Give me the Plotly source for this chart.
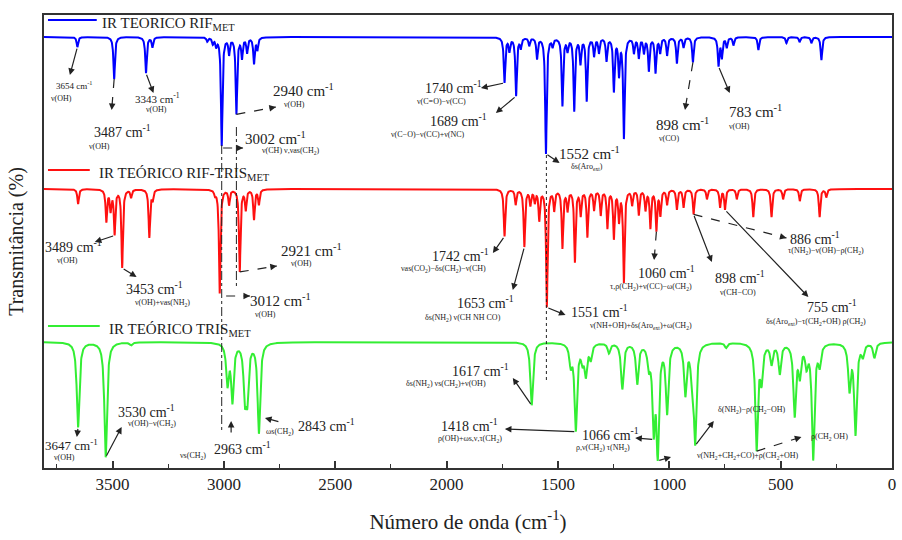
import numpy as np
import plotly.graph_objects as go

# ---------------- data ----------------
# peak positions (cm-1) and band depths (transmittance units) of each spectrum
BLUE_POS = [3658, 3493, 3350, 3321, 3075, 3050, 3035, 3010, 2977, 2944, 2919, 2896, 2865, 2850,
            1740, 1718, 1688, 1667, 1629, 1594, 1554, 1524, 1480, 1457, 1427, 1399, 1371, 1338,
            1316, 1282, 1249, 1226, 1204, 1159, 1137, 1114, 1092, 1062, 1041, 1010, 966, 936,
            894, 779, 764, 742, 712, 600, 474, 415, 362, 317]
BLUE_DEPTH = [10, 42, 36, 10, 4, 6, 8, 108, 16, 76, 20, 15, 26, 12,
              45, 13, 58, 10, 8, 21, 116, 8, 68, 12, 73, 25, 63, 18,
              15, 23, 53, 36, 100, 15, 20, 15, 33, 35, 15, 18, 26, 10,
              25, 28, 20, 10, 8, 13, 6, 5, 6, 23]

RED_POS = [3655, 3528, 3509, 3491, 3457, 3417, 3335, 3320, 3040, 3019, 2977, 2929, 2902, 2865, 2843,
           1740, 1690, 1651, 1624, 1604, 1584, 1550, 1517, 1480, 1457, 1424, 1398, 1368, 1338,
           1308, 1278, 1249, 1226, 1204, 1167, 1137, 1107, 1085, 1058, 1040, 1010, 966, 936,
           891, 831, 772, 750, 697, 623, 541, 489, 414, 325, 295]
RED_DEPTH = [15, 32, 20, 44, 78, 8, 48, 10, 5, 104, 15, 82, 20, 30, 15,
             47, 15, 57, 15, 12, 30, 117, 20, 58, 20, 72, 25, 47, 20,
             25, 38, 48, 30, 92, 15, 25, 20, 38, 40, 25, 15, 20, 18,
             25, 10, 18, 20, 10, 28, 28, 10, 12, 28, 8]

GREEN_POS = [3655, 3531, 3417, 2984, 2962, 2906, 2895, 2843,
             1618, 1443, 1420, 1390, 1375, 1353, 1271, 1211, 1144, 1092, 1070, 1052, 1010,
             928, 898, 884, 745, 608, 586, 541, 504, 437, 414, 384, 354, 325, 191, 164, 131, 79]
GREEN_DEPTH = [85, 115, 3, 40, 57, 50, 50, 90,
               63, 20, 86, 15, 30, 15, 10, 46, 40, 20, 80, 105, 68,
               50, 28, 96, 5, 105, 35, 20, 30, 71, 30, 20, 115, 20, 45, 90, 12, 15]

# vertical offsets of the stacked spectra
OFFSETS = {"blue": 431, "red": 279, "green": 126}
X_TICKS = [3500, 3000, 2500, 2000, 1500, 1000, 500, 0]
X_MAX = 3808

# ---------------- helpers ----------------
X = np.linspace(X_MAX, 0, 3809)
HW = {"blue": 4.0, "red": 4.0, "green": 7.0}
SERIES = {"blue": (BLUE_POS, BLUE_DEPTH), "red": (RED_POS, RED_DEPTH), "green": (GREEN_POS, GREEN_DEPTH)}


def spectrum(name, x):
    pos, dep = SERIES[name]
    g = HW[name]
    x = np.asarray(x, dtype=float)
    y = np.full_like(x, OFFSETS[name], dtype=float)
    for p, d in zip(pos, dep):
        y = y - d * g * g / ((x - p) ** 2 + g * g)
    return y


def tip(name, wn):
    return wn, float(spectrum(name, [wn])[0])


# pixel -> data helpers for placing text
PX0, PX1 = 44, 896
SCALE = (PX1 - PX0) / X_MAX   # pixels per cm-1


def wx(px):
    return X_MAX - (px - PX0) / SCALE


def vy(py):
    return 468 - py


COL = {"blue": "#0000FF", "red": "#FF1010", "green": "#33EE33"}
FONT = "Liberation Serif, Times New Roman, DejaVu Serif, serif"
INK = "#222222"

fig = go.Figure()
for name in ["blue", "red", "green"]:
    fig.add_trace(go.Scatter(x=X, y=spectrum(name, X), mode="lines",
                             line=dict(color=COL[name], width=2), hoverinfo="skip", showlegend=False))

annotations = []
shapes = []


def label(px, py, text, size, anchor="center"):
    annotations.append(dict(x=wx(px), y=vy(py), xref="x", yref="y", text=text, showarrow=False,
                            xanchor=anchor, yanchor="middle",
                            font=dict(family=FONT, size=size, color=INK)))


def arrow(head, tail, dashed=False):
    hx, hy = head
    tx, ty = tail
    if dashed:
        # dashed shaft + short solid piece carrying the head
        shapes.append(dict(type="line", xref="x", yref="y", x0=tx, y0=ty, x1=hx, y1=hy,
                           line=dict(color=INK, width=1.2, dash="dash")))
        # direction head -> tail in screen pixels (x reversed axis)
        ux = -(tx - hx) * SCALE
        uy = (ty - hy)
        L = max((ux ** 2 + uy ** 2) ** 0.5, 1e-6)
        ux, uy = ux / L, uy / L
        tx = hx - (8 * ux) / SCALE
        ty = hy + 8 * uy
    annotations.append(dict(x=hx, y=hy, ax=tx, ay=ty, xref="x", yref="y", axref="x", ayref="y",
                            text="", showarrow=True, arrowhead=2, arrowsize=1.1, arrowwidth=1.2,
                            arrowcolor=INK))


def P(px, py):
    return wx(px), vy(py)


SUP = " cm<sup>-1</sup>"

# ---- blue annotations ----
label(75, 85, "3654" + SUP, 9); label(62, 98, "ν(OH)", 8)
arrow(P(70, 75), tip("blue", 3658))
label(123, 131, "3487" + SUP, 14); label(100, 146, "ν(OH)", 8)
arrow(P(112, 110), tip("blue", 3493), dashed=True)
label(158, 98, "3343" + SUP, 11); label(157, 109, "ν(OH)", 8)
arrow(P(154, 93), tip("blue", 3350))
label(305, 90, "2940" + SUP, 15); label(296, 104, "ν(OH)", 8)
arrow(P(277, 107), tip("blue", 2944), dashed=True)
label(277, 138, "3002" + SUP, 15); label(292, 151, "ν(CH) ν,νas(CH<sub>2</sub>)", 8)
arrow(P(244, 148), P(224, 148), dashed=True)
label(455, 87, "1740" + SUP, 14); label(443, 101, "ν(C=O)−ν(CC)", 8)
arrow(P(483, 88), tip("blue", 1740))
label(460, 120, "1689" + SUP, 14); label(430, 134, "ν(C−O)−ν(CC)+ν(NC)", 8)
arrow(P(498, 113), tip("blue", 1688))
label(592, 153, "1552" + SUP, 15); label(590, 167, "δs(Aro<sub>ext</sub>)", 8)
arrow(P(562, 163), tip("blue", 1554))
label(686, 124, "898" + SUP, 15); label(672, 138, "ν(CO)", 8)
arrow(P(688, 110), tip("blue", 894), dashed=True)
label(759, 111, "783" + SUP, 15); label(743, 126, "ν(OH)", 8)
arrow(P(733, 93), tip("blue", 779))

# ---- red annotations ----
label(74, 246, "3489" + SUP, 14); label(68, 260, "ν(OH)", 8)
arrow(P(95, 242), tip("red", 3491))
label(155, 288, "3453" + SUP, 14); label(163, 303, "ν(OH)+νas(NH<sub>2</sub>)", 8)
arrow(P(137, 277), tip("red", 3457))
label(313, 250, "2921" + SUP, 15); label(303, 263, "ν(OH)", 8)
arrow(P(278, 266), tip("red", 2929), dashed=True)
label(282, 300, "3012" + SUP, 15); label(267, 314, "ν(OH)", 8)
arrow(P(251, 296), P(227, 296), dashed=True)
label(462, 255, "1742" + SUP, 14); label(445, 269, "νas(CO<sub>2</sub>)−δs(CH<sub>2</sub>)−ν(CH)", 8)
arrow(P(495, 253), tip("red", 1740))
label(488, 302, "1653" + SUP, 14); label(465, 318, "δs(NH<sub>2</sub>) ν(CH NH CO)", 8)
arrow(P(515, 290), tip("red", 1651))
label(602, 311, "1551" + SUP, 14); label(644, 326, "ν(NH+OH)+δs(Aro<sub>ext</sub>)+ω(CH<sub>2</sub>)", 8)
arrow(P(568, 315), tip("red", 1550))
label(669, 272, "1060" + SUP, 14); label(654, 287, "τ,ρ(CH<sub>2</sub>)+ν(CC)−ω(CH<sub>2</sub>)", 8)
arrow(P(657, 260), tip("red", 1058), dashed=True)
label(743, 277, "898" + SUP, 14); label(741, 292, "ν(CH−CO)", 8)
arrow(P(715, 262), tip("red", 891))
label(819, 238, "886" + SUP, 14); label(830, 251, "τ(NH<sub>2</sub>)−ν(OH)−ρ(CH<sub>2</sub>)", 8)
arrow(P(790, 238), tip("red", 891), dashed=True)
label(836, 306, "755" + SUP, 14); label(820, 322, "δs(Aro<sub>ext</sub>)−τ(CH<sub>2</sub>+OH) ρ(CH<sub>2</sub>)", 8)
arrow(P(812, 297), tip("red", 750))

# ---- green annotations ----
label(72, 445, "3647" + SUP, 13); label(65, 457, "ν(OH)", 8)
arrow(P(77, 437), tip("green", 3655))
label(147, 411, "3530" + SUP, 14); label(153, 424, "ν(OH)−ν(CH<sub>2</sub>)", 8)
arrow(P(122, 427), tip("green", 3531))
label(243, 448, "2963" + SUP, 14); label(194, 456, "νs(CH<sub>2</sub>)", 8)
arrow(P(232, 421), P(232, 434))
label(328, 425, "2843" + SUP, 14); label(281, 432, "ωs(CH<sub>2</sub>)", 8)
arrow(P(266, 418), P(281, 422))
label(483, 370, "1617" + SUP, 14); label(448, 384, "δs(NH<sub>2</sub>) νs(CH<sub>2</sub>)+ν(OH)", 8)
arrow(P(515, 378), tip("green", 1618))
label(472, 425, "1418" + SUP, 14); label(472, 439, "ρ(OH)+ωs,ν,τ(CH<sub>2</sub>)", 8)
arrow(P(507, 429), tip("green", 1420))
label(613, 434, "1066" + SUP, 14); label(606, 448, "ρ,ν(CH<sub>2</sub>) τ(NH<sub>2</sub>)", 8)
arrow(P(638, 438), tip("green", 1070))
label(751, 456, "ν(NH<sub>2</sub>+CH<sub>2</sub>+CO)+ρ(CH<sub>2</sub>+OH)", 8)
arrow(P(674, 457), tip("green", 1052))
label(755, 410, "δ(NH<sub>2</sub>)−ρ(CH<sub>2</sub>−OH)", 8)
arrow(P(717, 421), tip("green", 884))
label(833, 437, "ρ(CH<sub>2</sub> OH)", 8)
arrow(P(805, 437), tip("green", 608), dashed=True)

# ---- series labels (legend-like) ----
for name, py, x1, tx, txt in [("blue", 20, 97, 100, "IR TEORICO RIF<sub>MET</sub>"),
                              ("red", 170, 90, 97, "IR TEÓRICO RIF-TRIS<sub>MET</sub>"),
                              ("green", 326, 100, 107, "IR TEÓRICO TRIS<sub>MET</sub>")]:
    shapes.append(dict(type="line", xref="x", yref="y", x0=wx(48), x1=wx(x1), y0=vy(py), y1=vy(py),
                       line=dict(color=COL[name], width=2)))
    annotations.append(dict(x=wx(tx), y=vy(py + 4), xref="x", yref="y", text=txt, showarrow=False,
                            xanchor="left", yanchor="middle", font=dict(family=FONT, size=15, color=INK)))

# ---- vertical guide lines ----
shapes.append(dict(type="line", xref="x", yref="y", x0=3010, x1=3010, y0=vy(145), y1=vy(432),
                   line=dict(color=INK, width=1, dash="dashdot")))
shapes.append(dict(type="line", xref="x", yref="y", x0=2944, x1=2944, y0=vy(127), y1=vy(287),
                   line=dict(color=INK, width=1, dash="dashdot")))
shapes.append(dict(type="line", xref="x", yref="y", x0=1552, x1=1552, y0=vy(155), y1=vy(382),
                   line=dict(color=INK, width=1, dash="dot")))

fig.update_layout(
    width=902, height=540,
    margin=dict(l=44, r=6, t=15, b=72),
    paper_bgcolor="white", plot_bgcolor="white",
    annotations=annotations, shapes=shapes,
    xaxis=dict(range=[X_MAX, 0], tickvals=X_TICKS, ticktext=[str(v) for v in X_TICKS],
               ticks="inside", ticklen=7, tickwidth=1.5, tickcolor="#333",
               minor=dict(tickvals=[3750, 3250, 2750, 2250, 1750, 1250, 750, 250],
                          ticks="inside", ticklen=4, tickwidth=1.2, tickcolor="#333"),
               showline=True, linewidth=1.8, linecolor="#333", mirror=True,
               showgrid=False, zeroline=False,
               tickfont=dict(family=FONT, size=17, color=INK),
               title=dict(text="Número de onda (cm<sup>-1</sup>)", standoff=21,
                          font=dict(family=FONT, size=21, color=INK))),
    yaxis=dict(range=[0, 453], showticklabels=False, ticks="",
               showline=True, linewidth=1.8, linecolor="#333", mirror=True,
               showgrid=False, zeroline=False,
               title=dict(text="Transmitância (%)", standoff=13,
                          font=dict(family=FONT, size=20, color=INK))),
)

fig.write_html("out.html")
